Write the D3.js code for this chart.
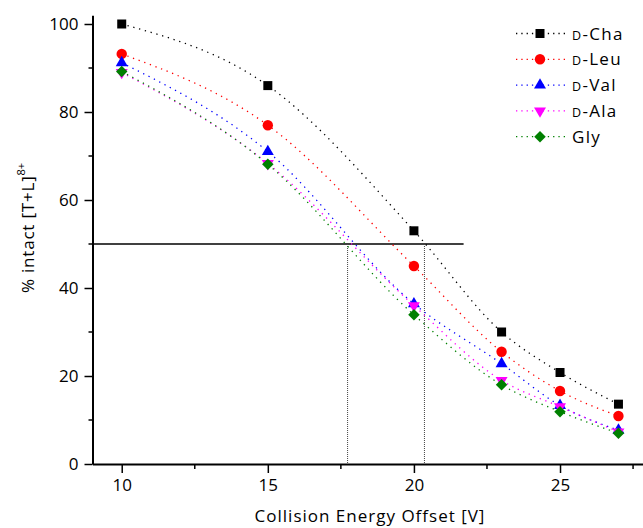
<!DOCTYPE html>
<html lang="en">
<head>
    <meta charset="UTF-8">
    <script src="https://d3js.org/d3.v7.min.js"></script>
    <title>% intact vs Collision Energy Offset</title>
    <style>
        body { margin: 0; background: #fff; }
        svg { font-family: "Open Sans", sans-serif; }
    </style>
</head>
<body>
    <div id="chart"></div>
    <script>
        // Collision energy offsets (V)
        const energies = [10, 15, 20, 23, 25, 27];

        // % intact for each residue
        const seriesNames = ["Cha", "Leu", "Val", "Ala", "Gly"];
        const dCha = [100, 86, 53, 30, 20.8, 13.6];
        const dLeu = [93.2, 77, 45, 25.5, 16.6, 10.9];
        const dVal = [91.2, 71, 36.4, 22.8, 13.3, 7.7];
        const dAla = [89, 68.3, 36, 19, 13, 7.3];
        const gly  = [89.2, 68.1, 33.9, 18, 11.9, 7];

        const xTicks = [10, 15, 20, 25];
        const yTicks = [0, 20, 40, 60, 80, 100];

        // 50 % reference line and its crossings
        const halfLevel = 50;
        const halfEnd = 21.7;
        const crossings = [17.73, 20.36];

        const series = [
            { name: "Cha", dPrefix: true,  values: dCha, color: "#000000", shape: "square" },
            { name: "Leu", dPrefix: true,  values: dLeu, color: "#ff0000", shape: "circle" },
            { name: "Val", dPrefix: true,  values: dVal, color: "#0000ff", shape: "triangle" },
            { name: "Ala", dPrefix: true,  values: dAla, color: "#ff00ff", shape: "triangleDown" },
            { name: "Gly", dPrefix: false, values: gly,  color: "#008000", shape: "diamond" }
        ];

        const width = 643, height = 528;

        const svg = d3.select("#chart").append("svg")
            .attr("width", width)
            .attr("height", height);

        const x = d3.scaleLinear().domain([9, 28]).range([92.5, 92.5 + 19 * 29.22]);
        const y = d3.scaleLinear().domain([0, 102]).range([464, 464 - 102 * 4.4]);

        // symbols
        function symbolPath(shape) {
            if (shape === "square") return d3.symbol(d3.symbolSquare, 81)();
            if (shape === "circle") return d3.symbol(d3.symbolCircle, 85)();
            if (shape === "triangle") return d3.symbol(d3.symbolTriangle, 62)();
            if (shape === "triangleDown") return d3.symbol(d3.symbolTriangle, 62)();
            return d3.symbol(d3.symbolSquare, 66)();
        }
        function symbolRotate(shape) {
            if (shape === "triangleDown") return " rotate(180)";
            if (shape === "diamond") return " rotate(45)";
            return "";
        }

        // 50% reference lines
        svg.append("line")
            .attr("x1", x.range()[0]).attr("x2", x(halfEnd))
            .attr("y1", y(halfLevel)).attr("y2", y(halfLevel))
            .attr("stroke", "#000").attr("stroke-width", 1.5);

        svg.selectAll(".cross")
            .data(crossings)
            .enter().append("line")
            .attr("class", "cross")
            .attr("x1", d => x(d)).attr("x2", d => x(d))
            .attr("y1", y(halfLevel)).attr("y2", y(0))
            .attr("stroke", "#444").attr("stroke-width", 1)
            .attr("stroke-dasharray", "1,1");

        // fitted curves
        const line = d3.line()
            .x((d, i) => x(energies[i]))
            .y(d => y(d))
            .curve(d3.curveMonotoneX);

        svg.selectAll(".fit")
            .data(series)
            .enter().append("path")
            .attr("class", "fit")
            .attr("d", d => line(d.values))
            .attr("fill", "none")
            .attr("stroke", d => d.color)
            .attr("stroke-width", 1.3)
            .attr("stroke-dasharray", "1.3,4.7");

        // markers
        series.forEach(s => {
            svg.selectAll(null)
                .data(s.values)
                .enter().append("path")
                .attr("d", symbolPath(s.shape))
                .attr("transform", (d, i) => `translate(${x(energies[i])},${y(d)})` + symbolRotate(s.shape))
                .attr("fill", s.color);
        });

        // axes
        const xAxis = svg.append("g")
            .attr("transform", `translate(0,${y(0)})`)
            .call(d3.axisBottom(x).tickValues(xTicks).tickSize(9).tickSizeOuter(0).tickPadding(6));
        xAxis.append("g").selectAll("line")
            .data([12.5, 17.5, 22.5, 27.5])
            .enter().append("line")
            .attr("x1", d => x(d)).attr("x2", d => x(d))
            .attr("y1", 0).attr("y2", 5)
            .attr("stroke", "#000").attr("stroke-width", 1.5);

        const yAxis = svg.append("g")
            .attr("transform", `translate(${x.range()[0]},0)`)
            .call(d3.axisLeft(y).tickValues(yTicks).tickSize(8).tickSizeOuter(0).tickPadding(6));
        yAxis.append("g").selectAll("line")
            .data([10, 30, 50, 70, 90])
            .enter().append("line")
            .attr("x1", 0).attr("x2", -4)
            .attr("y1", d => y(d)).attr("y2", d => y(d))
            .attr("stroke", "#000").attr("stroke-width", 1.5);

        svg.selectAll(".domain").attr("stroke", "#000").attr("stroke-width", 2);
        svg.selectAll(".tick line").attr("stroke", "#000").attr("stroke-width", 1.5);
        svg.selectAll(".tick text")
            .attr("fill", "#000")
            .style("font-size", "17px")
            .style("font-family", "'Open Sans', sans-serif");

        // axis titles
        svg.append("text")
            .attr("x", 370)
            .attr("y", 522)
            .attr("text-anchor", "middle")
            .style("font-size", "17px")
            .style("letter-spacing", "1px")
            .text("Collision Energy Offset [V]");

        const yTitle = svg.append("text")
            .attr("transform", "translate(34,228) rotate(-90)")
            .attr("text-anchor", "middle")
            .style("font-size", "17px")
            .style("letter-spacing", "0.8px");
        yTitle.append("tspan").text("% intact [T+L]");
        yTitle.append("tspan")
            .attr("dy", -9)
            .style("font-size", "11px")
            .style("letter-spacing", "0px")
            .text("8+");

        // legend
        const legend = svg.append("g");
        const rows = legend.selectAll("g")
            .data(series)
            .enter().append("g")
            .attr("transform", (d, i) => `translate(0,${33.5 + i * 25.8})`);

        rows.append("line")
            .attr("x1", 516).attr("x2", 567)
            .attr("stroke", d => d.color)
            .attr("stroke-width", 1.3)
            .attr("stroke-dasharray", "1.3,4");

        rows.append("path")
            .attr("d", d => symbolPath(d.shape))
            .attr("transform", d => "translate(540,0)" + symbolRotate(d.shape))
            .attr("fill", d => d.color);

        const labels = rows.append("text")
            .attr("x", 572)
            .attr("y", 6)
            .style("font-size", "17px")
            .style("letter-spacing", "1.3px");
        labels.filter(d => d.dPrefix).append("tspan")
            .style("font-size", "12.5px")
            .text("D");
        labels.append("tspan")
            .text(d => (d.dPrefix ? "-" : "") + d.name);
    </script>
</body>
</html>
